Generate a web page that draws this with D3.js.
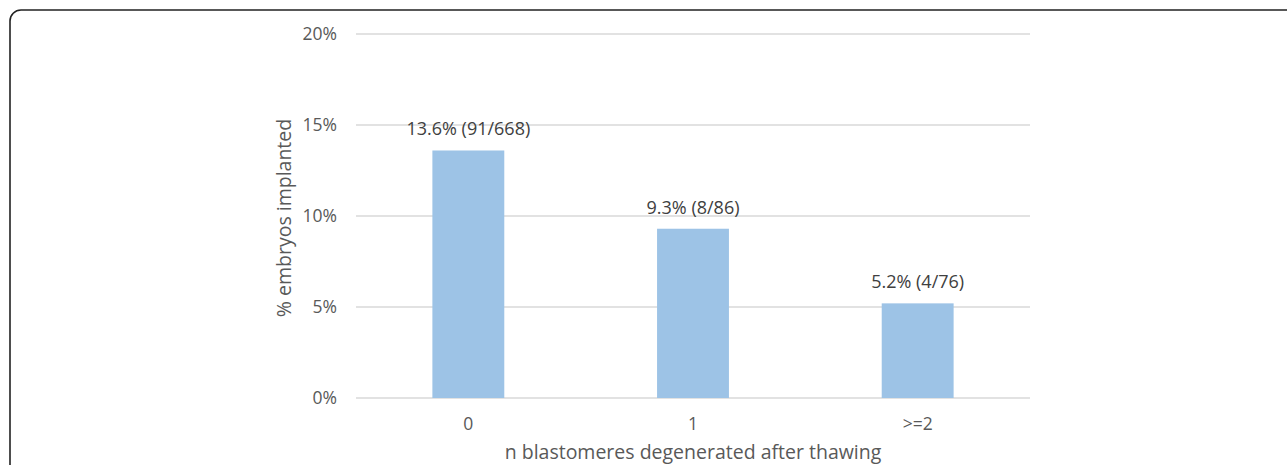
<!DOCTYPE html>
<html lang="en">
  <head>
    <meta charset="utf-8">
    <title>Implantation by degenerated blastomeres</title>
    <script src="https://d3js.org/d3.v7.min.js"></script>
    <style>
      body { margin: 0; background: #fff; }
      text { font-family: "Open Sans", "Noto Sans", sans-serif; fill: #595959; }
    </style>
  </head>
  <body>
    <script>

      var categories = ["0", "1", ">=2"]
      var rates = [13.6, 9.3, 5.2]
      var counts = ["91/668", "8/86", "4/76"]
      var yTicks = [0, 5, 10, 15, 20]

      var svg = d3.select("body").append("svg")
                  .attr("width", 1287)
                  .attr("height", 465);

      // frame, only the top-left corner is inside the picture
      svg.append("rect")
         .attr("x", 10).attr("y", 10)
         .attr("width", 1300).attr("height", 500)
         .attr("rx", 11)
         .style("fill", "none")
         .style("stroke", "#222")
         .style("stroke-width", 1.6);

      var x = d3.scaleBand()
                .domain(categories)
                .range([356, 1030])
                .paddingInner(0.68)
                .paddingOuter(0.34);

      var y = d3.scaleLinear()
                .domain([0, 20])
                .range([398, 34]);

      svg.append("g")
         .selectAll("line")
         .data(yTicks)
         .enter().append("line")
         .attr("x1", 356)
         .attr("x2", 1030)
         .attr("y1", function(d) { return y(d) })
         .attr("y2", function(d) { return y(d) })
         .style("stroke", "#d9d9d9")
         .style("stroke-width", 1.3);

      svg.append("g")
         .selectAll("text")
         .data(yTicks)
         .enter().append("text")
         .attr("x", 337)
         .attr("y", function(d) { return y(d) })
         .attr("dy", "0.35em")
         .attr("text-anchor", "end")
         .style("font-size", "17.5px")
         .text(function(d) { return d + "%" });

      svg.append("g")
         .selectAll("rect")
         .data(rates)
         .enter().append("rect")
         .attr("x", function(d, i) { return x(categories[i]) })
         .attr("y", function(d) { return y(d) })
         .attr("width", x.bandwidth())
         .attr("height", function(d) { return y(0) - y(d) })
         .style("fill", "#9dc3e6");

      svg.append("g")
         .selectAll("text")
         .data(rates)
         .enter().append("text")
         .attr("x", function(d, i) { return x(categories[i]) + x.bandwidth() / 2 })
         .attr("y", function(d) { return y(d) - 15 })
         .attr("text-anchor", "middle")
         .style("font-size", "18px")
         .style("fill", "#404040")
         .text(function(d, i) { return d + "% (" + counts[i] + ")" });

      svg.append("g")
         .selectAll("text")
         .data(categories)
         .enter().append("text")
         .attr("x", function(d) { return x(d) + x.bandwidth() / 2 })
         .attr("y", 424)
         .attr("dy", "0.35em")
         .attr("text-anchor", "middle")
         .style("font-size", "17.5px")
         .text(function(d) { return d });

      svg.append("text")
         .attr("x", 693)
         .attr("y", 459)
         .attr("text-anchor", "middle")
         .style("font-size", "19.5px")
         .text("n blastomeres degenerated after thawing");

      svg.append("text")
         .attr("transform", "translate(291,218) rotate(-90)")
         .attr("text-anchor", "middle")
         .style("font-size", "19.5px")
         .text("% embryos implanted");

    </script>
  </body>
</html>
